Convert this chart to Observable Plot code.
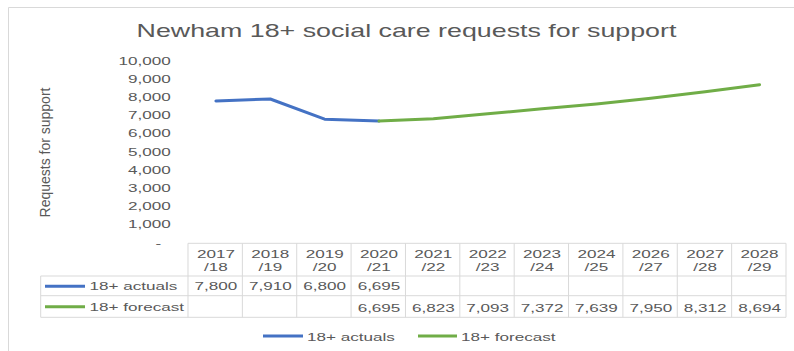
<!DOCTYPE html>
<html><head><meta charset="utf-8">
<script src="https://cdn.jsdelivr.net/npm/d3@7"></script>
<script src="https://cdn.jsdelivr.net/npm/@observablehq/plot@0.6"></script>
<style>
html,body{margin:0;padding:0;background:#fff;}
#chart svg path, #chart svg line{vector-effect:non-scaling-stroke;}
</style></head>
<body><div id="chart"></div>
<script>
// ---- data ----
const categories = ["2017/18","2018/19","2019/20","2020/21","2021/22","2022/23","2023/24","2024/25","2026/27","2027/28","2028/29"];
const actuals  = [7800, 7910, 6800, 6695, null, null, null, null, null, null, null];
const forecast = [null, null, null, 6695, 6823, 7093, 7372, 7639, 7950, 8312, 8694];
const seriesNames = ["18+ actuals", "18+ forecast"];
const seriesColors = ["#4472C4", "#70AD47"];
const titleText = "Newham 18+ social care requests for support";
const yLabelText = "Requests for support";
const yDomain = [0, 10000];

// ---- layout (screen px of the 794x351 picture; drawing is stretched horizontally) ----
const OUT_W = 794, OUT_H = 351, SX = 1.449;
const W = OUT_W / SX;
const sx = v => v / SX;
const TEXT = "#595959", GRID = "#d9d9d9";
const FS = 11.8;
const fmt = d3.format(",");
const plotTop = 60.5, plotBottom = 242.3;
const rowLines = [243.3, 276, 295.7, 317.3];
const headerBaseline = 256, valueBaselines = [289.8, 311];
const lineHeight = 13.5;
const n = categories.length;
const series = [actuals, forecast];

function decor(index, scales, values, dim) {
  const x = scales.x;
  const bw = x.bandwidth();
  const x0 = x(categories[0]), x1 = x(categories[n - 1]) + bw;
  const labelLeft = sx(40.7);
  const g = d3.create("svg:g").attr("fill", "none");
  // chart area border (left and top visible)
  g.append("path").attr("d", `M${sx(8.5)},${OUT_H}V7.5H${W}`).attr("stroke", GRID).attr("stroke-width", 1);
  // data table grid
  const grid = g.append("g").attr("stroke", GRID).attr("stroke-width", 1);
  grid.append("line").attr("x1", x0).attr("x2", x1).attr("y1", rowLines[0]).attr("y2", rowLines[0]);
  for (const y of rowLines.slice(1)) grid.append("line").attr("x1", labelLeft).attr("x2", x1).attr("y1", y).attr("y2", y);
  grid.append("line").attr("x1", labelLeft).attr("x2", labelLeft).attr("y1", rowLines[1]).attr("y2", rowLines[3]);
  for (const c of categories) grid.append("line").attr("x1", x(c)).attr("x2", x(c)).attr("y1", rowLines[0]).attr("y2", rowLines[3]);
  grid.append("line").attr("x1", x1).attr("x2", x1).attr("y1", rowLines[0]).attr("y2", rowLines[3]);
  // title
  g.append("text").attr("x", sx(406.5)).attr("y", 36.7).attr("text-anchor", "middle")
    .attr("font-size", 18.5).attr("fill", TEXT).attr("stroke", "none").text(titleText);
  // y axis title
  g.append("g").attr("transform", `translate(${sx(45.5)},152.5) scale(0.7,1) rotate(-90)`)
    .append("text").attr("text-anchor", "middle").attr("dy", "0.35em").attr("font-size", 14)
    .attr("fill", TEXT).attr("stroke", "none").text(yLabelText);
  // row labels with swatches, and legend
  const rowSwY = [286.3, 306.8];
  const legSw = [[263, 303], [418, 457]];
  seriesNames.forEach((name, i) => {
    g.append("line").attr("x1", sx(45)).attr("x2", sx(85)).attr("y1", rowSwY[i]).attr("y2", rowSwY[i])
      .attr("stroke", seriesColors[i]).attr("stroke-width", 3);
    g.append("text").attr("x", sx(89.5)).attr("y", valueBaselines[i]).attr("font-size", FS)
      .attr("text-anchor", "start").attr("fill", TEXT).attr("stroke", "none").text(name);
    g.append("line").attr("x1", sx(legSw[i][0])).attr("x2", sx(legSw[i][1])).attr("y1", 336).attr("y2", 336)
      .attr("stroke", seriesColors[i]).attr("stroke-width", 3);
    g.append("text").attr("x", sx(legSw[i][1] + 4)).attr("y", 340.6).attr("font-size", FS)
      .attr("text-anchor", "start").attr("fill", TEXT).attr("stroke", "none").text(name);
  });
  return g.node();
}

const idx = d3.range(n);
const plot = Plot.plot({
  width: W,
  height: OUT_H,
  marginLeft: sx(188),
  marginRight: W - sx(786),
  marginTop: plotTop,
  marginBottom: OUT_H - plotBottom,
  style: {fontFamily: "'Liberation Sans', Arial, sans-serif", fontSize: FS + "px", color: TEXT, background: "#fff"},
  x: {type: "band", domain: categories, padding: 0, round: false, axis: null},
  y: {domain: yDomain, ticks: 10, tickSize: 0, tickPadding: 12.4, label: null,
      tickFormat: d => d === 0 ? "-\u00a0\u00a0" : fmt(d)},
  marks: [
    decor,
    Plot.line(idx.filter(i => actuals[i] != null), {x: i => categories[i], y: i => actuals[i],
      stroke: seriesColors[0], strokeWidth: 3, strokeLinecap: "round", strokeLinejoin: "round"}),
    Plot.line(idx.filter(i => forecast[i] != null), {x: i => categories[i], y: i => forecast[i],
      stroke: seriesColors[1], strokeWidth: 3, strokeLinecap: "round", strokeLinejoin: "round"}),
    Plot.text(categories, {x: d => d, text: d => d.replace("/", "\n/"), frameAnchor: "bottom",
      lineAnchor: "top", lineHeight: lineHeight / FS, dy: headerBaseline - 0.71 * FS - plotBottom,
      fill: TEXT, fontSize: FS}),
    ...series.map((s, k) => Plot.text(idx.filter(i => s[i] != null), {x: i => categories[i], text: i => fmt(s[i]),
      frameAnchor: "bottom", lineAnchor: "top", dy: valueBaselines[k] - 0.71 * FS - plotBottom,
      fill: TEXT, fontSize: FS}))
  ]
});
plot.setAttribute("width", OUT_W);
plot.setAttribute("height", OUT_H);
plot.setAttribute("viewBox", `0 0 ${W} ${OUT_H}`);
plot.setAttribute("preserveAspectRatio", "none");
plot.style.width = OUT_W + "px";
plot.style.height = OUT_H + "px";
plot.style.maxWidth = "none";
document.getElementById("chart").appendChild(plot);
</script>
</body></html>
